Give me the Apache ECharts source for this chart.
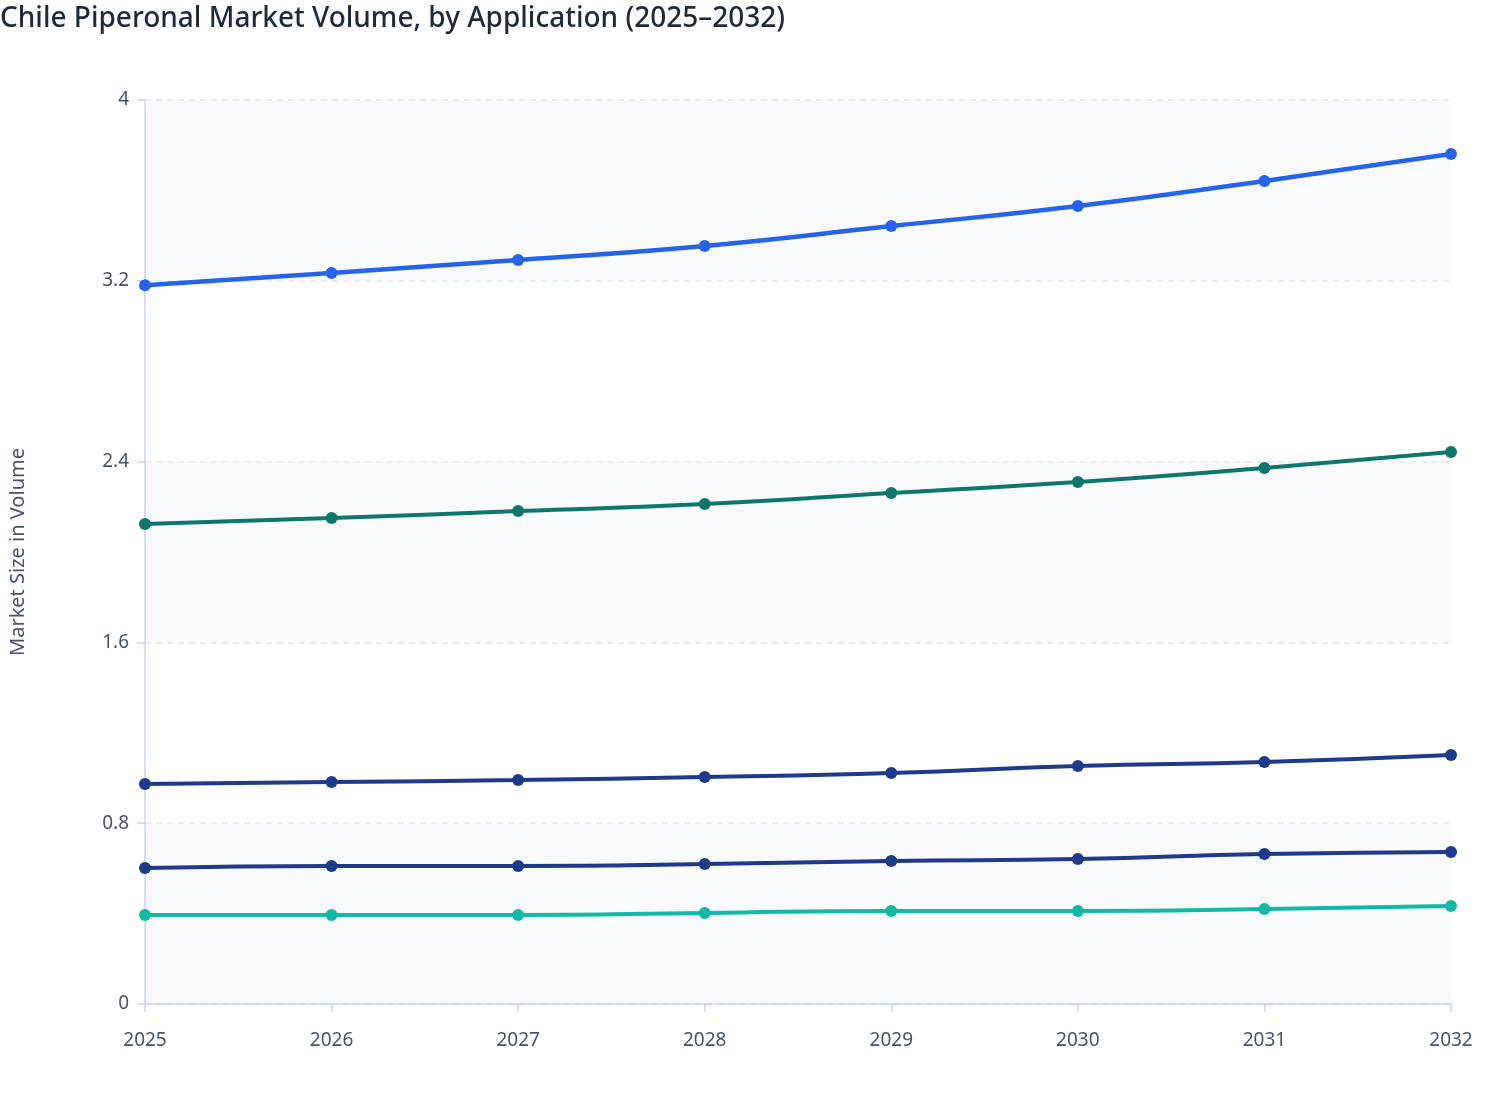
<!DOCTYPE html>
<html>
<head>
<meta charset="utf-8">
<title>Chile Piperonal Market Volume</title>
<script src="https://cdn.jsdelivr.net/npm/echarts@6/dist/echarts.min.js"></script>
<style>
  html, body { margin: 0; padding: 0; background: #fff; }
  #chart { width: 1508px; height: 1120px; }
</style>
</head>
<body>
<div id="chart"></div>
<script>
// years on the x axis
var years = ['2025', '2026', '2027', '2028', '2029', '2030', '2031', '2032'];

// values, one array per application
var fragrances = [3.18, 3.235, 3.292, 3.354, 3.442, 3.531, 3.642, 3.761];
var flavors = [2.124, 2.150, 2.181, 2.212, 2.261, 2.310, 2.372, 2.442];
var pharma = [0.973, 0.982, 0.991, 1.004, 1.022, 1.053, 1.071, 1.102];
var cosmetics = [0.602, 0.611, 0.611, 0.619, 0.633, 0.642, 0.664, 0.673];
var others = [0.394, 0.394, 0.394, 0.403, 0.412, 0.412, 0.420, 0.434];

var seriesNames = ['Fragrances', 'Flavors', 'Pharmaceuticals', 'Cosmetics', 'Others'];
var seriesData = [fragrances, flavors, pharma, cosmetics, others];
var colors = ['#2563eb', '#0f766e', '#1e3a8a', '#1e3a8a', '#14b8a6'];
var widths = [4.5, 4, 4, 4, 4];

var font = '"Noto Sans", "Open Sans", sans-serif';

var myChart = echarts.init(document.getElementById('chart'));

var series = [];
for (var i = 0; i < seriesData.length; i++) {
   series.push({
      name: seriesNames[i],
      type: 'line',
      smooth: true,
      data: seriesData[i],
      symbol: 'circle',
      symbolSize: 12,
      lineStyle: { width: widths[i], color: colors[i] },
      itemStyle: { color: colors[i] }
   });
}

myChart.setOption({
   animation: false,
   title: {
      text: 'Chile Piperonal Market Volume, by Application (2025\u20132032)',
      left: 0,
      top: 0,
      padding: [5, 0, 0, 0],
      textStyle: {
         fontFamily: font,
         fontSize: 28,
         fontWeight: 500,
         color: '#1e293b'
      }
   },
   tooltip: { trigger: 'axis' },
   grid: {
      left: 144,
      right: 57,
      top: 100,
      bottom: 116
   },
   xAxis: {
      type: 'category',
      data: years,
      boundaryGap: false,
      axisLine: { lineStyle: { color: '#c7d2f4', width: 1.5 } },
      axisTick: { length: 8, lineStyle: { color: '#c7d2f4', width: 1.5 } },
      axisLabel: { color: '#475569', fontSize: 19, fontFamily: font, margin: 27 }
   },
   yAxis: {
      type: 'value',
      min: 0,
      max: 4,
      interval: 0.8,
      name: 'Market Size in Volume',
      nameLocation: 'middle',
      nameGap: 117,
      nameTextStyle: { color: '#475569', fontSize: 20, fontFamily: font },
      axisLine: { show: true, lineStyle: { color: '#c7d2f4', width: 1.5 } },
      axisTick: { show: true, length: 8, lineStyle: { color: '#c7d2f4', width: 1.5 } },
      axisLabel: { color: '#475569', fontSize: 19, fontFamily: font, margin: 16 },
      splitLine: { lineStyle: { color: '#e2e8f0', type: [6, 5], width: 1.5 } },
      splitArea: { show: true, areaStyle: { color: ['#f8fafc', '#ffffff'] } }
   },
   series: series
});
</script>
</body>
</html>
